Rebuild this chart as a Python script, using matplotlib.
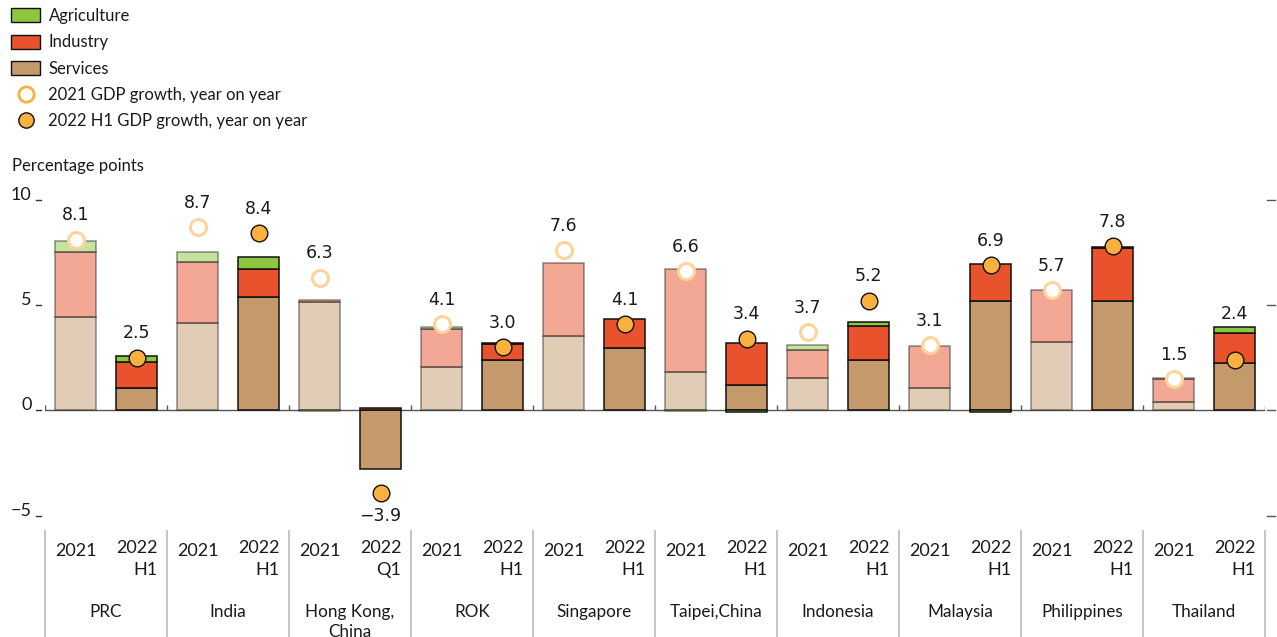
import matplotlib
matplotlib.use('Agg')
import matplotlib.pyplot as plt
import matplotlib.transforms as mtransforms
from matplotlib.lines import Line2D
from matplotlib.patches import Patch
import numpy as np

plt.rcParams['font.family'] = ['Lato', 'DejaVu Sans']

# ---------------- data ----------------
economies = ["PRC", "India", "Hong Kong,\nChina", "ROK", "Singapore", "Taipei,China",
             "Indonesia", "Malaysia", "Philippines", "Thailand"]
period_2021 = ["2021"] * 10
period_2022 = ["2022\nH1", "2022\nH1", "2022\nQ1", "2022\nH1", "2022\nH1", "2022\nH1",
               "2022\nH1", "2022\nH1", "2022\nH1", "2022\nH1"]

services_2021 = [4.42, 4.15, 5.13, 2.08, 3.55, 1.84, 1.52, 1.05, 3.23, 0.40]
industry_2021 = [3.10, 2.87, 0.10, 1.77, 3.44, 4.85, 1.35, 1.99, 2.48, 1.07]
agriculture_2021 = [0.53, 0.48, -0.03, 0.10, 0.00, -0.04, 0.25, 0.00, 0.00, 0.08]
gdp_2021 = [8.1, 8.7, 6.3, 4.1, 7.6, 6.6, 3.7, 3.1, 5.7, 1.5]

services_2022 = [1.05, 5.36, -2.78, 2.38, 2.98, 1.19, 2.39, 5.20, 5.20, 2.27]
industry_2022 = [1.25, 1.33, 0.13, 0.75, 1.36, 2.02, 1.61, 1.76, 2.52, 1.42]
agriculture_2022 = [0.28, 0.60, 0.00, 0.05, 0.00, -0.05, 0.19, -0.06, 0.03, 0.28]
gdp_2022 = [2.5, 8.4, -3.9, 3.0, 4.1, 3.4, 5.2, 6.9, 7.8, 2.4]

yticks = [10, 5, 0, -5]
ytick_labels = ["10", "5", "0", "\u22125"]

# ---------------- style ----------------
C_AGR = '#8DC63F'
C_IND = '#E8532D'
C_SER = '#C49A6C'
C_DOT = '#FBB040'
TXT = '#1a1a1a'

W, H = 1277, 637
fig = plt.figure(figsize=(W / 100, H / 100), dpi=100)
ax = fig.add_axes([45 / W, (H - 526.5) / H, 1220 / W, 337.5 / H])
ax.set_xlim(-0.5, 19.5)
ax.set_ylim(-5.5, 10.5)
ax.axis('off')

n = len(economies)
x21 = np.arange(n) * 2.0
x22 = np.arange(n) * 2.0 + 1.0
bw = 0.66


def draw_stack(xs, layers, alpha, ec):
    pos = np.zeros(len(xs))
    neg = np.zeros(len(xs))
    for vals, color in layers:
        vals = np.asarray(vals, dtype=float)
        for i, v in enumerate(vals):
            if v > 0:
                ax.bar(xs[i], v, bottom=pos[i], width=bw, color=color, edgecolor=ec,
                       linewidth=1.1, alpha=alpha, zorder=3)
                pos[i] += v
            elif v < 0:
                ax.bar(xs[i], v, bottom=neg[i], width=bw, color=color, edgecolor=ec,
                       linewidth=1.1, alpha=alpha, zorder=3)
                neg[i] += v
    return pos


# zero line
ax.axhline(0, color='#555555', lw=1.0, zorder=2)

top21 = draw_stack(x21, [(services_2021, C_SER), (industry_2021, C_IND), (agriculture_2021, C_AGR)],
                   0.5, '#222222')
top22 = draw_stack(x22, [(services_2022, C_SER), (industry_2022, C_IND), (agriculture_2022, C_AGR)],
                   1.0, '#111111')

# markers
ax.plot(x21, gdp_2021, linestyle='none', marker='o', markersize=11.5,
        markerfacecolor='white', markeredgecolor='#FDD49C', markeredgewidth=2.2, zorder=5)
ax.plot(x22, gdp_2022, linestyle='none', marker='o', markersize=12,
        markerfacecolor=C_DOT, markeredgecolor='#111111', markeredgewidth=1.0, zorder=5)

# value labels
for xs, vals, tops in ((x21, gdp_2021, top21), (x22, gdp_2022, top22)):
    for xv, v, tp in zip(xs, vals, tops):
        if v >= 0 and tp - v > 0.5:
            anchor, off = tp, 9.5
        elif v >= 0:
            anchor, off = v, 17.5
        else:
            anchor, off = v, -17
        ax.annotate(f"{v:.1f}".replace('-', '\u2212'), (xv, anchor), xytext=(0, off),
                    textcoords='offset points', ha='center', va='center',
                    fontsize=12.5, color=TXT, family='DejaVu Sans', zorder=6)

# separators
seps = np.arange(-0.5, 2 * n, 2.0)
ax.vlines(seps, 0, 0.25, color='#555555', lw=1.0, zorder=2)
ax.vlines(seps, -10.9, -5.66, color='#BBBBBB', lw=1.2, clip_on=False)

# y ticks (left and right)
btr = mtransforms.blended_transform_factory(ax.transAxes, ax.transData)
for v, lab in zip(yticks, ytick_labels):
    ax.plot([-0.0074, -0.0030], [v, v], color='#333333', lw=1.0, transform=btr, clip_on=False)
    ax.plot([1.0016, 1.0085], [v, v], color='#555555', lw=1.0, transform=btr, clip_on=False)
    ax.text(-0.0110, v, lab, transform=btr, ha='right', va='baseline',
            fontsize=13, color=TXT)

fig.text(12 / W, 1 - 166 / H, "Percentage points", ha='left', va='center', fontsize=12, color=TXT)

# category labels
for i in range(n):
    ax.text(x21[i], -6.65, period_2021[i], ha='center', va='center', fontsize=13,
            color=TXT, clip_on=False)
    ax.text(x22[i], -6.12, period_2022[i], ha='center', va='top', fontsize=13,
            color=TXT, multialignment='right', linespacing=1.5, clip_on=False)
    ax.text(2 * i + 0.5, -9.18, economies[i], ha='center', va='top', fontsize=12.3,
            color=TXT, linespacing=1.3, clip_on=False)

# legend
handles = [
    Patch(facecolor=C_AGR, edgecolor='#111111', linewidth=1.0, label='Agriculture'),
    Patch(facecolor=C_IND, edgecolor='#111111', linewidth=1.0, label='Industry'),
    Patch(facecolor=C_SER, edgecolor='#111111', linewidth=1.0, label='Services'),
    Line2D([], [], linestyle='none', marker='o', markersize=11, markerfacecolor='white',
           markeredgecolor=C_DOT, markeredgewidth=2.0, label='2021 GDP growth, year on year'),
    Line2D([], [], linestyle='none', marker='o', markersize=11, markerfacecolor=C_DOT,
           markeredgecolor='#111111', markeredgewidth=1.0, label='2022 H1 GDP growth, year on year'),
]
leg = fig.legend(handles=handles, loc='upper left', bbox_to_anchor=(11 / W, 1 - 8 / H),
                 frameon=False, fontsize=12, handlelength=1.75, handleheight=0.9,
                 handletextpad=0.5, labelspacing=0.62, borderpad=0, borderaxespad=0)
for t in leg.get_texts():
    t.set_color(TXT)

fig.savefig('out.png', dpi=100)
